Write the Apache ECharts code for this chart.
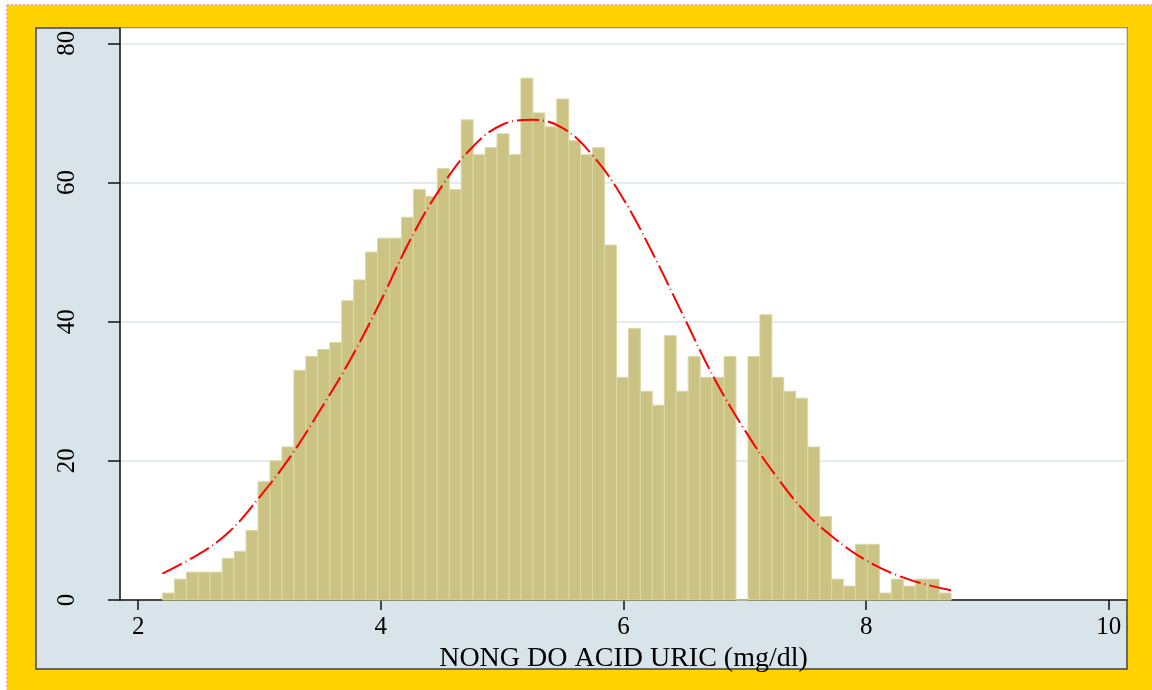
<!DOCTYPE html>
<html>
<head>
<meta charset="utf-8">
<script src="https://cdn.jsdelivr.net/npm/echarts@6/dist/echarts.min.js"></script>
<style>
  html, body { margin: 0; padding: 0; background: #fff; }
  #main { width: 1152px; height: 690px; }
</style>
</head>
<body>
<div id="main"></div>
<script>
// histogram: 66 bins between 2.2 and 8.7
var binLo = 2.2;
var binHi = 8.7;
var counts = [
  1, 3, 4, 4, 4, 6, 7, 10, 17, 20, 22, 33, 35, 36, 37, 43,
  46, 50, 52, 52, 55, 59, 58, 62, 59, 69, 64, 65, 67, 64, 75, 70,
  68, 72, 66, 64, 65, 51, 32, 39, 30, 28, 38, 30, 35, 32, 32, 35,
  0, 35, 41, 32, 30, 29, 22, 12, 3, 2, 8, 8, 1, 3, 2, 3, 3, 1
];
// normal curve
var curveX = [2.2, 2.5, 2.75, 3.0, 3.25, 3.5, 3.75, 4.0, 4.25, 4.5, 4.75, 5.0, 5.25, 5.5,
  5.75, 6.0, 6.25, 6.5, 6.75, 7.0, 7.25, 7.5, 7.75, 8.0, 8.25, 8.5, 8.7];
var curveY = [3.8, 6.6, 9.8, 14.8, 20.5, 27.3, 34.6, 43.0, 52.0, 59.4, 65.0, 68.3, 69.0, 67.8,
  63.8, 57.6, 49.5, 40.6, 31.8, 24.4, 18.0, 12.6, 8.7, 5.7, 3.6, 2.2, 1.4];
var xTicks = [2, 4, 6, 8, 10];
var yTicks = [0, 20, 40, 60, 80];
var xTitle = 'NONG DO ACID URIC (mg/dl)';

var binW = (binHi - binLo) / counts.length;
var barData = counts.map(function (c, i) {
  return [binLo + i * binW, binLo + (i + 1) * binW, c];
});
var lineData = curveX.map(function (x, i) { return [x, curveY[i]]; });

var serif = 'Liberation Serif';
var chart = echarts.init(document.getElementById('main'));

var option = {
  backgroundColor: '#fff',
  animation: false,
  graphic: [
    // yellow outer region
    { type: 'rect', z: -30, shape: { x: 7, y: 5, width: 1145, height: 685 }, style: { fill: '#ffd200' } },
    { type: 'line', z: -29, shape: { x1: 7, y1: 4.5, x2: 1152, y2: 4.5 }, style: { stroke: '#f39a9a', lineWidth: 1, lineDash: [2, 2] } },
    { type: 'line', z: -29, shape: { x1: 6.5, y1: 5, x2: 6.5, y2: 690 }, style: { stroke: '#f39a9a', lineWidth: 1, lineDash: [2, 2] } },
    // grey-blue panel
    { type: 'rect', z: -28, shape: { x: 36, y: 28, width: 1091, height: 641 }, style: { fill: '#d9e4ea', stroke: '#40434a', lineWidth: 1.5 } },
    // white plot region
    { type: 'rect', z: -27, shape: { x: 120, y: 28, width: 1007, height: 572 }, style: { fill: '#fff', stroke: '#b9bfc3', lineWidth: 1 } }
  ],
  grid: { left: 120, right: 25, top: 28, bottom: 90, show: false },
  xAxis: {
    type: 'value',
    min: 1.85,
    max: 10.15,
    name: xTitle,
    nameLocation: 'middle',
    nameGap: 40,
    nameTextStyle: { fontFamily: serif, fontSize: 28, color: '#000' },
    axisLine: { show: true, lineStyle: { color: '#111', width: 1.5 } },
    axisTick: { show: true, length: 10, customValues: xTicks, lineStyle: { color: '#111', width: 1.5 } },
    axisLabel: { customValues: xTicks, margin: 15, fontFamily: serif, fontSize: 25, color: '#000' },
    splitLine: { show: false }
  },
  yAxis: {
    type: 'value',
    min: 0,
    max: 82.2,
    axisLine: { show: true, lineStyle: { color: '#111', width: 1.5 } },
    axisTick: { show: true, length: 12, customValues: yTicks, lineStyle: { color: '#111', width: 1.5 } },
    axisLabel: { customValues: yTicks, rotate: 90, margin: 40, fontFamily: serif, fontSize: 25, color: '#000' },
    splitLine: { show: true, lineStyle: { color: '#e4ecf0', width: 2 } }
  },
  series: [
    {
      type: 'custom',
      data: barData,
      encode: { x: [0, 1], y: 2 },
      renderItem: function (params, api) {
        var p0 = api.coord([api.value(0), api.value(2)]);
        var p1 = api.coord([api.value(1), 0]);
        return {
          type: 'rect',
          shape: { x: p0[0], y: p0[1], width: p1[0] - p0[0], height: p1[1] - p0[1] },
          style: { fill: '#cbc383', stroke: '#dcd8a5', lineWidth: 1 }
        };
      }
    },
    {
      type: 'line',
      data: lineData,
      smooth: 0.4,
      symbol: 'none',
      z: 5,
      lineStyle: { color: '#ff0000', width: 2, type: [22, 4, 1, 4] }
    }
  ]
};
chart.setOption(option);
</script>
</body>
</html>
